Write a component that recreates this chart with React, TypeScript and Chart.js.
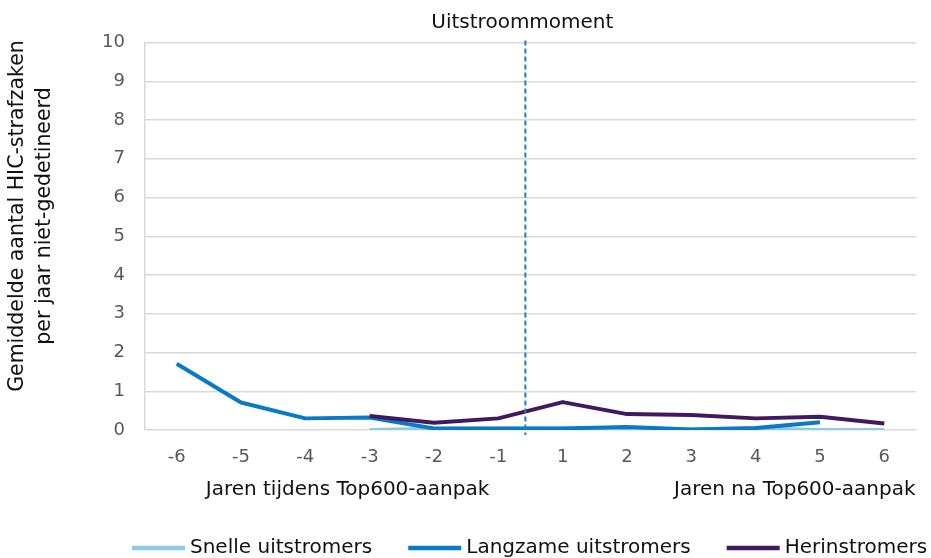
import React, { useEffect, useRef } from "react";
import { Chart, registerables } from "chart.js";

Chart.register(...registerables);

const categories = ["-6", "-5", "-4", "-3", "-2", "-1", "1", "2", "3", "4", "5", "6"];
const snelle = [null, null, null, 0, 0.03, 0.03, 0.04, 0.06, 0.01, 0.04, 0, 0];
const langzame = [1.71, 0.71, 0.3, 0.32, 0.04, 0.04, 0.04, 0.08, 0.01, 0.05, 0.2, null];
const herinstromers = [null, null, null, 0.36, 0.19, 0.3, 0.72, 0.41, 0.39, 0.3, 0.34, 0.17];

const seriesNames = ["Snelle uitstromers", "Langzame uitstromers", "Herinstromers"];
const seriesColors = ["#8DC9E8", "#0A79C8", "#41195F"];
const yTitle = ["Gemiddelde aantal HIC-strafzaken", "per jaar niet-gedetineerd"];
const xTitleLeft = "Jaren tijdens Top600-aanpak";
const xTitleRight = "Jaren na Top600-aanpak";
const markerLabel = "Uitstroommoment";
const markerPosition = 5.42; // category index position of the vertical dashed marker

const FONT = '"DejaVu Sans", Verdana, sans-serif';

const annotations = {
  id: "annotations",
  afterDatasetsDraw(chart: any) {
    const { ctx, chartArea, scales } = chart;
    const x = scales.x;
    const p5 = x.getPixelForValue(Math.floor(markerPosition));
    const p6 = x.getPixelForValue(Math.floor(markerPosition) + 1);
    const mx = p5 + (markerPosition - Math.floor(markerPosition)) * (p6 - p5);
    ctx.save();
    // dashed marker
    ctx.strokeStyle = "#1F7EC6";
    ctx.lineWidth = 2;
    ctx.setLineDash([5, 3]);
    ctx.beginPath();
    ctx.moveTo(mx, chartArea.top - 2);
    ctx.lineTo(mx, chartArea.bottom + 5);
    ctx.stroke();
    ctx.setLineDash([]);

    ctx.fillStyle = "#111";
    ctx.font = `20px ${FONT}`;
    ctx.textBaseline = "middle";
    ctx.textAlign = "center";
    ctx.fillText(markerLabel, mx - 3, 23);

    // x titles
    ctx.textAlign = "center";
    ctx.fillText(xTitleLeft, chartArea.left + 203, 490);
    ctx.textAlign = "right";
    ctx.fillText(xTitleRight, chartArea.right - 1, 490);

    // y title
    ctx.save();
    ctx.font = `20.5px ${FONT}`;
    ctx.translate(0, 216);
    ctx.rotate(-Math.PI / 2);
    ctx.textAlign = "center";
    ctx.fillText(yTitle[0], 0, 18);
    ctx.fillText(yTitle[1], 0, 45);
    ctx.restore();

    // legend
    let lx = 132;
    const ly = 548;
    ctx.textAlign = "left";
    seriesNames.forEach((name, i) => {
      ctx.strokeStyle = seriesColors[i];
      ctx.lineWidth = 4.5;
      ctx.beginPath();
      ctx.moveTo(lx, ly);
      ctx.lineTo(lx + 53, ly);
      ctx.stroke();
      ctx.fillStyle = "#111";
      ctx.fillText(name, lx + 58, ly);
      lx += 58 + ctx.measureText(name).width + 36;
    });
    ctx.restore();
  },
};

export default function App() {
  const ref = useRef<HTMLCanvasElement>(null);
  useEffect(() => {
    document.body.style.margin = "0";
    const seriesData = [snelle, langzame, herinstromers];
    const chart = new Chart(ref.current as HTMLCanvasElement, {
      type: "line",
      data: {
        labels: categories,
        datasets: seriesNames.map((name, i) => ({
          label: name,
          data: seriesData[i] as any,
          borderColor: seriesColors[i],
          backgroundColor: seriesColors[i],
          borderWidth: 4,
          pointRadius: 0,
          tension: 0,
          fill: false,
          borderJoinStyle: "round" as const,
          order: 3 - i,
        })),
      },
      options: {
        responsive: false,
        animation: false,
        devicePixelRatio: 1,
        layout: { padding: { left: 0, right: 14.5, top: 42.5, bottom: 0 } },
        plugins: {
          legend: { display: false },
          tooltip: { enabled: false },
        },
        scales: {
          x: {
            type: "category",
            offset: true,
            grid: { display: false, drawTicks: false },
            border: { display: false },
            ticks: {
              color: "#595959",
              font: { family: FONT, size: 18 },
              padding: 17,
              maxRotation: 0,
              autoSkip: false,
            },
            afterFit(scale: any) {
              scale.height = 128;
            },
          },
          y: {
            min: 0,
            max: 10,
            grid: { color: "#D9D9D9", lineWidth: 1.5, drawTicks: false },
            border: { display: true, color: "#D9D9D9", width: 1.5 },
            ticks: {
              stepSize: 1,
              color: "#595959",
              font: { family: FONT, size: 18 },
              padding: 19.5,
            },
            afterFit(scale: any) {
              scale.width = 144.5;
            },
          },
        },
      },
      plugins: [annotations],
    });
    return () => chart.destroy();
  }, []);
  return (
    <div style={{ width: 931, height: 558 }}>
      <canvas ref={ref} width={931} height={558} style={{ display: "block" }} />
    </div>
  );
}
